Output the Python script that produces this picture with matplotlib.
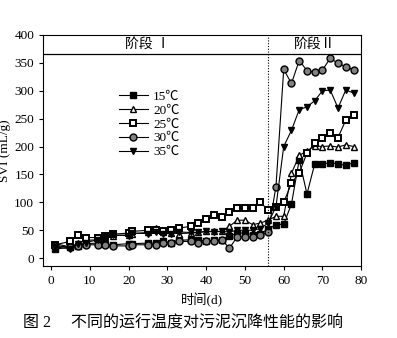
import numpy as np
import matplotlib
matplotlib.use("Agg")
import matplotlib.pyplot as plt

plt.rcParams['font.family'] = ['Liberation Serif', 'Noto Sans CJK SC', 'DejaVu Sans']

# ── Données ──────────────────────────────────────────────────────────────────
jours = [1, 5, 7, 9, 12, 14, 16, 20, 21, 25, 27, 29, 31, 33, 36, 38, 40, 42,
         44, 46, 48, 50, 52, 54, 56,
         58, 60, 62, 64, 66, 68, 70, 72, 74, 76, 78]

svi_15 = [16, 20, 22, 26, 27, 25, 24, 26, 26, 27, 27, 30, 28, 32, 33, 33, 30, 33,
          32, 39, 45, 45, 42, 44, 52,
          60, 61, 97, 176, 115, 169, 169, 171, 169, 166, 171]
svi_20 = [26, 20, 27, 32, 33, 38, 40, 42, 44, 46, 54, 47, 45, 44, 45, 46, 48, 48,
          48, 57, 68, 68, 60, 63, 68,
          75, 75, 152, 184, 192, 201, 200, 201, 199, 203, 200]
svi_25 = [24, 30, 42, 37, 37, 40, 43, 45, 48, 50, 51, 48, 50, 54, 57, 63, 70, 77,
          74, 83, 89, 89, 90, 100, 86,
          92, 100, 134, 153, 188, 206, 215, 224, 216, 247, 256]
svi_30 = [22, 20, 22, 24, 24, 23, 22, 22, 24, 24, 24, 28, 28, 30, 30, 28, 30, 30,
          33, 18, 38, 38, 38, 42, 46,
          128, 338, 313, 354, 336, 333, 337, 358, 349, 343, 337]
svi_35 = [20, 17, 25, 28, 33, 38, 42, 40, 45, 44, 46, 44, 44, 47, 46, 46, 48, 47,
          48, 47, 50, 50, 50, 53, 63,
          92, 200, 229, 266, 271, 282, 300, 301, 269, 301, 296]

etiquettes = ['15℃', '20℃', '25℃', '30℃', '35℃']
series = [svi_15, svi_20, svi_25, svi_30, svi_35]
marqueurs = ['s', '^', 's', 'o', 'v']
remplissages = ['black', 'white', 'white', '#808080', 'black']

fin_phase1 = 56
y_bande = 366

# ── Figure ────────────────────────────────────────────────────────────────────
fig = plt.figure(figsize=(3.97, 3.38), dpi=100)
ax = fig.add_axes([0.109, 0.213, 0.801, 0.684])

for svi, lab, m, fc in zip(series, etiquettes, marqueurs, remplissages):
    ax.plot(jours, svi, color='black', linewidth=0.8, marker=m,
            markerfacecolor=fc, markeredgecolor='black',
            markeredgewidth=1.0 if lab != '25℃' else 1.4,
            markersize=5, label=lab)

ax.set_xlim(-2, 80)
ax.set_ylim(-14, 400)
ax.set_xticks(np.arange(0, 81, 10))
ax.set_yticks(np.arange(0, 401, 50))
ax.tick_params(direction='out', length=3, width=0.8, labelsize=9.5)

# bande des phases
ax.axhline(y_bande, color='black', linewidth=0.9)
ax.axvline(fin_phase1, color='black', linewidth=0.8, linestyle=(0, (1, 1.5)))
ax.text(25, (y_bande + 400) / 2, '阶段 Ⅰ', ha='center', va='center', fontsize=10)
ax.text(68, (y_bande + 400) / 2, '阶段Ⅱ', ha='center', va='center', fontsize=10)

ax.set_xlabel('时间(d)', fontsize=9.5, labelpad=4)
ax.set_ylabel('SVI (mL/g)', fontsize=9.5, labelpad=2)

ax.legend(loc='upper left', bbox_to_anchor=(0.2, 0.81), frameon=False,
          fontsize=9.5, handlelength=2.2, labelspacing=0.12, handletextpad=0.4)

fig.text(0.46, 0.044, '图 2\u3000 不同的运行温度对污泥沉降性能的影响',
         ha='center', va='center', fontsize=11.5)

fig.savefig('out.png', dpi=100)
